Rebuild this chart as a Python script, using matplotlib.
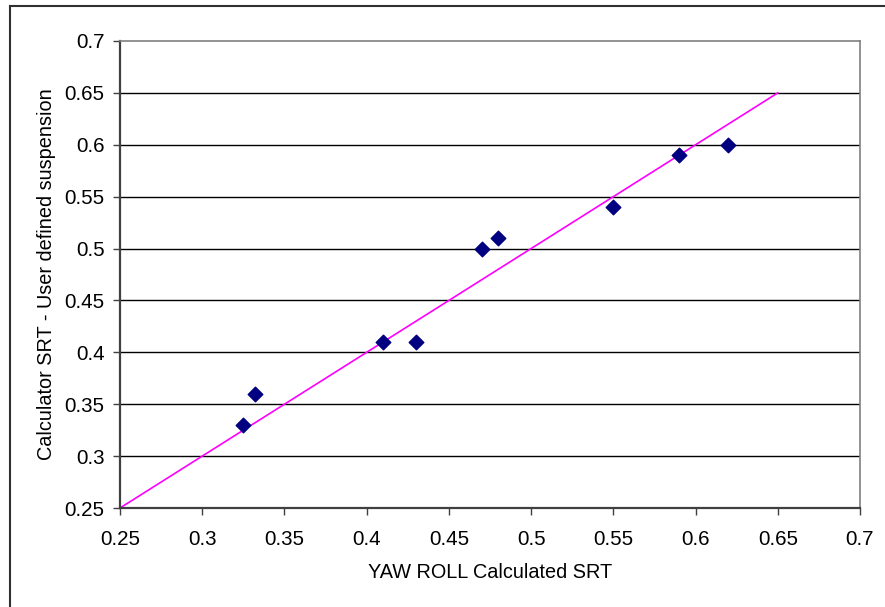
import matplotlib.pyplot as plt
from matplotlib.lines import Line2D

# Datos
yaw_roll_srt = [0.325, 0.332, 0.41, 0.43, 0.47, 0.48, 0.55, 0.59, 0.62]
calculator_srt = [0.33, 0.36, 0.41, 0.41, 0.50, 0.51, 0.54, 0.59, 0.60]
linea_x = [0.25, 0.65]
linea_y = [0.25, 0.65]
ticks = [0.25, 0.3, 0.35, 0.4, 0.45, 0.5, 0.55, 0.6, 0.65, 0.7]
tick_labels = ['0.25', '0.3', '0.35', '0.4', '0.45', '0.5', '0.55', '0.6', '0.65', '0.7']

plt.rcParams['font.family'] = ['Liberation Sans', 'DejaVu Sans']

fig = plt.figure(figsize=(8.85, 6.07), dpi=100)
W, H = 885, 607
ax = fig.add_axes([120 / W, 1 - 508 / H, 740 / W, 467 / H])

# Lineas de cuadricula horizontales
for t in ticks[1:-1]:
    ax.axhline(t, color='black', linewidth=1.0, zorder=1)

ax.plot(linea_x, linea_y, color='#ff00ff', linewidth=1.2, zorder=2)
ax.scatter(yaw_roll_srt, calculator_srt, marker='D', s=55, color='#000080', zorder=3)

ax.set_xlim(0.25, 0.7)
ax.set_ylim(0.25, 0.7)
ax.set_xticks(ticks)
ax.set_xticklabels(tick_labels)
ax.set_yticks(ticks)
ax.set_yticklabels(tick_labels)
ax.tick_params(labelsize=14.8, length=5, width=1, color='#404040')
ax.tick_params(axis='x', pad=11)
ax.tick_params(axis='y', pad=6)

for lado in ['left', 'bottom']:
    ax.spines[lado].set_color('#404040')
    ax.spines[lado].set_linewidth(1.6)
for lado in ['top', 'right']:
    ax.spines[lado].set_color('#808080')
    ax.spines[lado].set_linewidth(1.2)

ax.set_xlabel('YAW ROLL Calculated SRT', fontsize=14.3, labelpad=10)
ax.set_ylabel('Calculator SRT - User defined suspension', fontsize=14.3, labelpad=6)

# Borde exterior del grafico (solo izquierda y arriba visibles)
fig.add_artist(Line2D([10 / W, 10 / W], [0, 1 - 6 / H], color='#303030', linewidth=1.5))
fig.add_artist(Line2D([10 / W, 1], [1 - 6 / H, 1 - 6 / H], color='#303030', linewidth=1.5))

fig.savefig('out.png', dpi=100)
